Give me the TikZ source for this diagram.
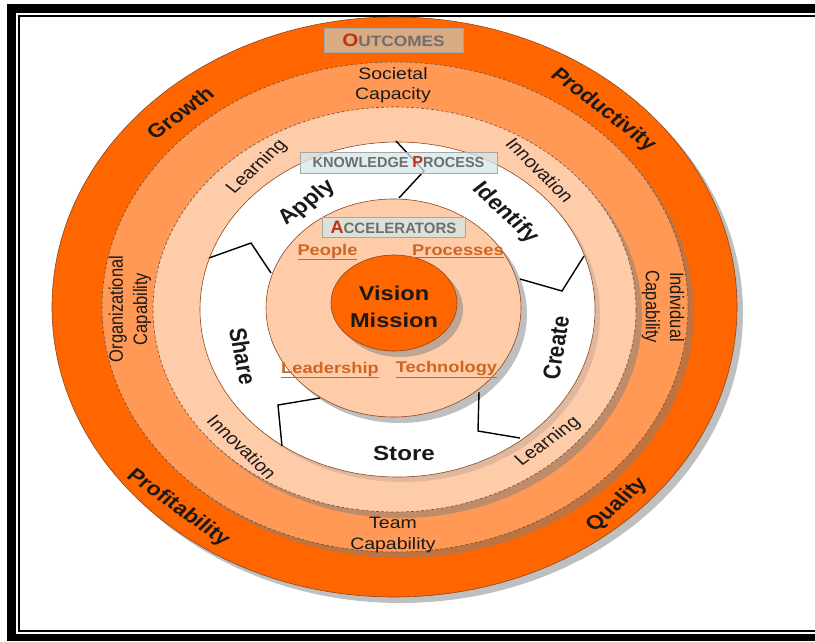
\documentclass[tikz,border=0pt]{standalone}
\usepackage{fontspec}
\setmainfont{Liberation Sans}
\usetikzlibrary{positioning}
\definecolor{ringorange}{RGB}{255,102,0}
\definecolor{ringmid}{RGB}{255,153,85}
\definecolor{ringpeach}{RGB}{255,204,170}
\definecolor{edgebrown}{RGB}{140,70,30}
\definecolor{dashbrown}{RGB}{105,80,65}
\definecolor{accbrown}{RGB}{204,102,34}
\definecolor{titlered}{RGB}{190,50,20}
\definecolor{titlegray}{RGB}{110,110,110}
\definecolor{tanbox}{RGB}{206,194,174}
\definecolor{bluebox}{RGB}{212,232,232}
\newcommand{\ringfont}{\fontsize{19.5}{23}\selectfont\bfseries}
\newcommand{\capfont}{\fontsize{16.5}{20.5}\selectfont}
\newcommand{\wordfont}{\fontsize{17}{20}\selectfont}
\newcommand{\stagefont}{\fontsize{20.5}{24}\selectfont\bfseries}
\newcommand{\accfont}{\fontsize{15.5}{18}\selectfont\bfseries}
\newcommand{\corefont}{\fontsize{20}{27}\selectfont\bfseries}

\begin{document}
\begin{tikzpicture}[x=1pt,y=-1pt,
  lbl/.style={xscale=1.18,text=black!90,inner sep=0pt,align=center},
  shade/.style={preaction={fill=black!50,opacity=.5,transform canvas={xshift=6pt,yshift=-6pt}}},
  ringline/.style={draw=dashbrown,dash pattern=on 3pt off 2pt,line width=.6pt},
  zig/.style={line width=1.4pt,black},
  titlebox/.style={draw=gray!70,line width=.8pt,fill opacity=.75,text opacity=1,inner sep=0pt,text=titlegray,font=\bfseries}]
\useasboundingbox (0,0) rectangle (815,641);

% frame
\fill (7,4) rectangle (16,641);
\fill (7,4) rectangle (815,13);
\fill (7,634) rectangle (815,641);
\draw [line width=2pt] (815,15.5) -- (19,15.5) -- (19,631) -- (815,631);

% rings
\path [shade,fill=ringorange,draw=edgebrown,line width=.6pt] (394.5,307) ellipse [x radius=342.5,y radius=290];
\path [shade,fill=ringmid,ringline] (395,307) ellipse [x radius=293,y radius=245];
\path [shade,fill=ringpeach,ringline] (394.5,309.5) ellipse [x radius=241.5,y radius=202.5];
\path [preaction={fill=black!50,opacity=.25,transform canvas={xshift=5pt,yshift=-5pt}},fill=white,draw=edgebrown,line width=.6pt] (397.5,309.5) ellipse [x radius=197.5,y radius=167.5];
\path [shade,fill=ringpeach,draw=edgebrown,line width=.6pt] (393.5,308) ellipse [x radius=127.5,y radius=109];
\path [shade,fill=ringorange,draw=edgebrown,line width=.6pt] (394,303) ellipse [x radius=63,y radius=48];

% separators
\draw [zig] (396,141) -- (424,171) -- (399,198);
\draw [zig] (209,258) -- (251,243) -- (271,273);
\draw [zig] (584,256) -- (562,291) -- (520,279);
\draw [zig] (282,446) -- (278,405) -- (320,398);
\draw [zig] (479,392) -- (478,431) -- (520,438);

% title boxes
\node [titlebox,fill=tanbox,minimum width=139pt,minimum height=24pt] (outcomes) at (393.5,40)
  {\scalebox{1.15}[1]{{\fontsize{18}{18}\selectfont\color{titlered}O}{\fontsize{15}{15}\selectfont UTCOMES}}};
\node [titlebox,fill=bluebox,minimum width=197pt,minimum height=21pt] (knowledge) at (398.5,162.5)
  {\fontsize{14.5}{15}\selectfont KNOWLEDGE {\fontsize{16}{16}\selectfont\color{titlered}P}ROCESS};
\node [titlebox,fill=bluebox,minimum width=143pt,minimum height=20pt] (accelerators) at (393.5,227)
  {{\fontsize{18}{18}\selectfont\color{titlered}A}{\fontsize{15}{15}\selectfont CCELERATORS}};

% outcomes
\node [lbl,font=\ringfont,rotate=41] (growth) at (180,113) {Growth};
\node [lbl,font=\ringfont,rotate=-42] (productivity) at (603,110) {Productivity};
\node [lbl,font=\ringfont,rotate=-40] (profitability) at (178,508) {Profitability};
\node [lbl,font=\ringfont,rotate=47] (quality) at (617,505) {Quality};

% capabilities
\node [lbl,font=\capfont] (societal) at (393,85) {Societal\\Capacity};
\node [lbl,font=\capfont,rotate=90] (organizational) at (130,309) {Organizational\\Capability};
\node [lbl,font=\capfont,rotate=-90] (individual) at (663,307) {Individual\\Capability};
\node [lbl,font=\capfont] (team) at (393,535) {Team\\Capability};

% learning and innovation
\node [lbl,font=\wordfont,rotate=47] (learningtop) at (257,167) {Learning};
\node [lbl,font=\wordfont,rotate=-49.5] (innovationtop) at (540,170) {Innovation};
\node [lbl,font=\wordfont,rotate=-48] (innovationbot) at (242,447) {Innovation};
\node [lbl,font=\wordfont,rotate=40.6] (learningbot) at (548,442) {Learning};

% knowledge process
\node [lbl,font=\stagefont,rotate=41.7] (apply) at (307,203) {Apply};
\node [lbl,font=\stagefont,rotate=-47.6] (identify) at (505,213) {Identify};
\node [lbl,font=\stagefont,rotate=82] (create) at (556,348) {Create};
\node [lbl,font=\stagefont,rotate=-80.5] (share) at (243,356) {Share};
\node [lbl,font=\stagefont] (store) at (404,453) {Store};

% accelerators
\node [lbl,font=\accfont,text=accbrown] (people) at (327.5,252) {\underline{People}};
\node [lbl,font=\accfont,text=accbrown] (processes) at (458,251) {\underline{Processes}};
\node [lbl,font=\accfont,text=accbrown] (leadership) at (330,370) {\underline{Leadership}};
\node [lbl,font=\accfont,text=accbrown] (technology) at (446.5,370) {\underline{Technology}};

% core
\node [lbl,font=\corefont] (vision) at (394,306.5) {Vision\\Mission};

\end{tikzpicture}
\end{document}
